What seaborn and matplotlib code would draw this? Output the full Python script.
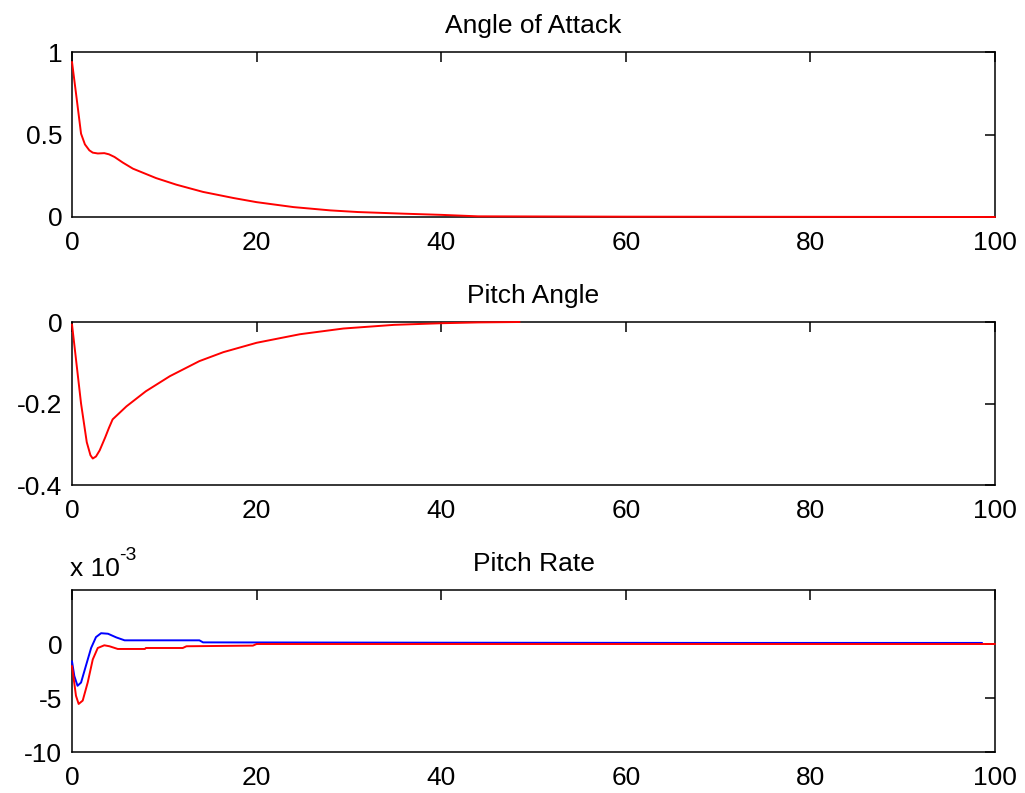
import numpy as np
import seaborn as sns
import matplotlib
matplotlib.use('Agg')
import matplotlib.pyplot as plt
from matplotlib.ticker import FuncFormatter

# values
t_aoa = [0, 0.5, 0.98, 1.4, 1.88, 2.25, 2.8, 3.5, 4.0, 4.6, 5.5, 6.6, 9.1, 11.3, 14.2, 17.5, 20, 24, 28, 31, 36, 40, 44, 60, 80, 100]
aoa = [0.94, 0.72, 0.505, 0.44, 0.404, 0.39, 0.385, 0.387, 0.38, 0.364, 0.33, 0.293, 0.236, 0.196, 0.152, 0.115, 0.09, 0.06, 0.04, 0.03, 0.02, 0.013, 0.004, 0.002, 0.001, 0.0]

t_pitch = [0, 0.98, 1.6, 2.0, 2.25, 2.6, 3.0, 3.6, 4.0, 4.4, 5.9, 8.0, 10.6, 13.8, 16.4, 20, 24.7, 29.4, 34.9, 40, 44, 48.5]
pitch = [-0.006, -0.2, -0.295, -0.327, -0.335, -0.33, -0.315, -0.283, -0.26, -0.239, -0.207, -0.170, -0.133, -0.096, -0.074, -0.051, -0.030, -0.016, -0.007, -0.003, -0.001, 0.0]

# pitch rate, in units of 1e-3
t_q1 = [0, 0.25, 0.6, 0.98, 1.5, 2.07, 2.6, 3.15, 3.9, 4.8, 5.7, 13.8, 14.2, 40, 70, 98.6]
q1 = [-1.6, -2.96, -3.87, -3.57, -2.04, -0.37, 0.64, 1.0, 0.95, 0.61, 0.34, 0.34, 0.15, 0.12, 0.1, 0.1]
t_q2 = [0, 0.43, 0.72, 1.16, 1.7, 2.25, 2.79, 3.5, 4.06, 4.96, 7.9, 8.0, 12.0, 12.4, 19.6, 20, 60, 100]
q2 = [-2.04, -4.79, -5.55, -5.24, -3.57, -1.43, -0.37, -0.12, -0.21, -0.46, -0.46, -0.37, -0.37, -0.21, -0.15, 0.0, 0.0, 0.0]
q_scale = 1e-3

sns.set_style('white')
plt.rcParams['font.family'] = ['Liberation Sans', 'DejaVu Sans']
plt.rcParams['font.size'] = 19
plt.rcParams['text.color'] = 'black'

fig = plt.figure(figsize=(10.25, 7.93), dpi=100)
W, H = 1025, 793
boxes = [(72, 52, 995, 217), (72, 322, 995, 485), (72, 590, 995, 752)]
axes = [fig.add_axes([l / W, 1 - b / H, (r - l) / W, (b - t) / H]) for l, t, r, b in boxes]

def style(ax, title):
    for s in ax.spines.values():
        s.set_color('black')
        s.set_linewidth(1.1)
    ax.tick_params(direction='in', top=True, right=True, length=7, width=1.1,
                   colors='black', labelsize=19)
    ax.tick_params(axis='x', pad=10)
    ax.tick_params(axis='y', pad=7)
    ax.set_xlim(0, 100)
    ax.set_xticks([0, 20, 40, 60, 80, 100])
    ax.set_title(title, fontsize=19, pad=14, color='black')
    ax.set_xlabel('')
    ax.set_ylabel('')

line_kw = dict(linewidth=1.4, zorder=3, clip_on=False)

ax = axes[0]
sns.lineplot(x=t_aoa, y=aoa, ax=ax, color='#ff0000', **line_kw)
ax.set_ylim(0, 1)
ax.set_yticks([0, 0.5, 1])
ax.yaxis.set_major_formatter(FuncFormatter(lambda v, p: f'{v:g}'))
style(ax, 'Angle of Attack')

ax = axes[1]
sns.lineplot(x=t_pitch, y=pitch, ax=ax, color='#ff0000', **line_kw)
ax.set_ylim(-0.4, 0)
ax.set_yticks([-0.4, -0.2, 0])
ax.yaxis.set_major_formatter(FuncFormatter(lambda v, p: f'{v:g}'))
style(ax, 'Pitch Angle')

ax = axes[2]
sns.lineplot(x=t_q1, y=np.array(q1) * q_scale, ax=ax, color='#0000ff', **line_kw)
sns.lineplot(x=t_q2, y=np.array(q2) * q_scale, ax=ax, color='#ff0000', **line_kw)
ax.set_ylim(-10e-3, 5e-3)
ax.set_yticks([-10e-3, -5e-3, 0])
ax.yaxis.set_major_formatter(FuncFormatter(lambda v, p: f'{round(v / q_scale):g}'))
style(ax, 'Pitch Rate')

# MATLAB style exponent label
fig.text(70 / W, 1 - 576 / H, 'x 10', fontsize=19, ha='left', va='baseline')
fig.text(119 / W, 1 - 560 / H, '-3', fontsize=14, ha='left', va='baseline')

fig.savefig('out.png', dpi=100)
